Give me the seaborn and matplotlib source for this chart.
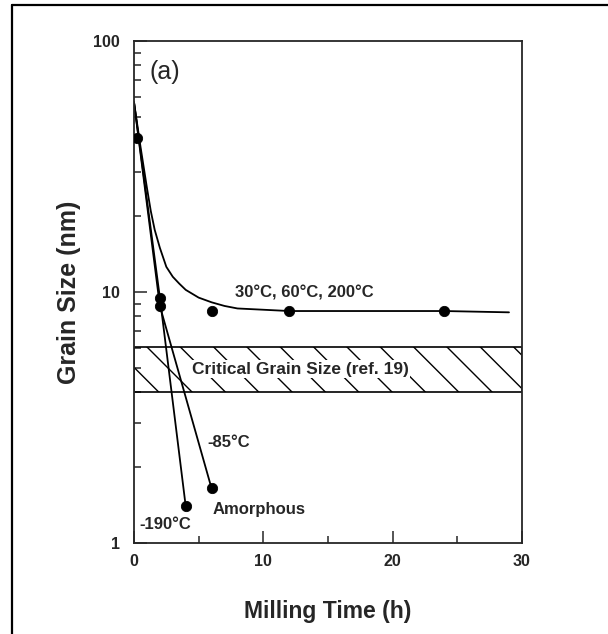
import seaborn as sns
import matplotlib.pyplot as plt
import pandas as pd
from matplotlib.lines import Line2D

# fitted curve (30, 60, 200 C)
curve_x = [0, 0.5, 1, 1.3, 1.6, 2, 2.5, 3, 3.5, 4, 5, 6, 7, 8, 10, 12, 16, 20, 24, 29]
curve_y = [57, 38, 26, 21, 17.7, 15, 12.6, 11.5, 10.8, 10.2, 9.5, 9.1, 8.8, 8.6,
           8.5, 8.4, 8.4, 8.4, 8.4, 8.3]

# measured points
warm_x = [0.2, 6, 12, 24]
warm_y = [41, 8.4, 8.4, 8.4]
cold190_x = [0, 2, 4]
cold190_y = [57, 9.5, 1.4]
cold85_x = [0, 2, 6]
cold85_y = [57, 8.8, 1.65]

critical_lo, critical_hi = 4.0, 6.06

sns.set_style("ticks")
plt.rcParams['font.family'] = ['Liberation Sans', 'DejaVu Sans']

fig = plt.figure(figsize=(6.08, 6.34), dpi=100)
ax = fig.add_axes([0.2204, 0.1435, 0.638, 0.7918])

# critical grain size band
ax.axhspan(critical_lo, critical_hi, facecolor='none', edgecolor='black',
           hatch='\\', linewidth=1.2)

curve = pd.DataFrame({'t': curve_x, 'd': curve_y})
sns.lineplot(data=curve, x='t', y='d', color='black', lw=1.3, ax=ax)

for xs, ys in [(cold190_x, cold190_y), (cold85_x, cold85_y)]:
    df = pd.DataFrame({'t': xs, 'd': ys})
    sns.lineplot(data=df, x='t', y='d', color='black', lw=1.3, ax=ax)
    sns.scatterplot(data=df.iloc[1:], x='t', y='d', color='black', s=55,
                    edgecolor='black', ax=ax, zorder=5)

warm = pd.DataFrame({'t': warm_x, 'd': warm_y})
sns.scatterplot(data=warm, x='t', y='d', color='black', s=55,
                edgecolor='black', ax=ax, zorder=5)

ax.set_yscale('log')
ax.set_xlim(0, 30)
ax.set_ylim(1, 100)
ax.set_xticks([0, 10, 20, 30])
ax.set_xticks([5, 15, 25], minor=True)
ax.set_yticks([1, 10, 100])
ax.set_yticklabels(['1', '10', '100'])
ax.tick_params(which='both', direction='in', top=False, right=False, width=1.1)
ax.tick_params(which='major', length=9)
ax.tick_params(which='minor', length=5)
ax.tick_params(axis='y', which='major', pad=10)
ax.tick_params(axis='x', which='major', pad=8)
for lab in ax.get_xticklabels() + ax.get_yticklabels():
    lab.set_fontsize(11.5)
    lab.set_fontweight('bold')
for sp in ax.spines.values():
    sp.set_linewidth(1.3)

ax.set_xlabel('Milling Time (h)', fontsize=16.5, fontweight='bold', labelpad=22)
ax.set_ylabel('Grain Size (nm)', fontsize=18, fontweight='bold', labelpad=9)

ax.text(1.2, 75, '(a)', fontsize=18, va='center', ha='left')
ax.text(7.8, 9.9, '30°C, 60°C, 200°C', fontsize=12, fontweight='bold',
        va='center', ha='left')
ax.text(4.5, 4.93, 'Critical Grain Size (ref. 19)', fontsize=12.5,
        fontweight='bold', va='center', ha='left',
        bbox=dict(facecolor='white', edgecolor='none', pad=1))
ax.text(5.65, 2.51, '-85°C', fontsize=12, fontweight='bold', va='center', ha='left')
ax.text(6.1, 1.36, 'Amorphous', fontsize=12, fontweight='bold', va='center', ha='left')
ax.text(0.45, 1.19, '-190°C', fontsize=12, fontweight='bold', va='center', ha='left')

# frame lines at the top and left of the page
fig.add_artist(Line2D([12 / 608, 12 / 608], [0, 1 - 5 / 634], color='black',
                      lw=1.6, transform=fig.transFigure))
fig.add_artist(Line2D([12 / 608, 1], [1 - 5 / 634, 1 - 5 / 634], color='black',
                      lw=1.6, transform=fig.transFigure))

fig.savefig('out.png', dpi=100)
